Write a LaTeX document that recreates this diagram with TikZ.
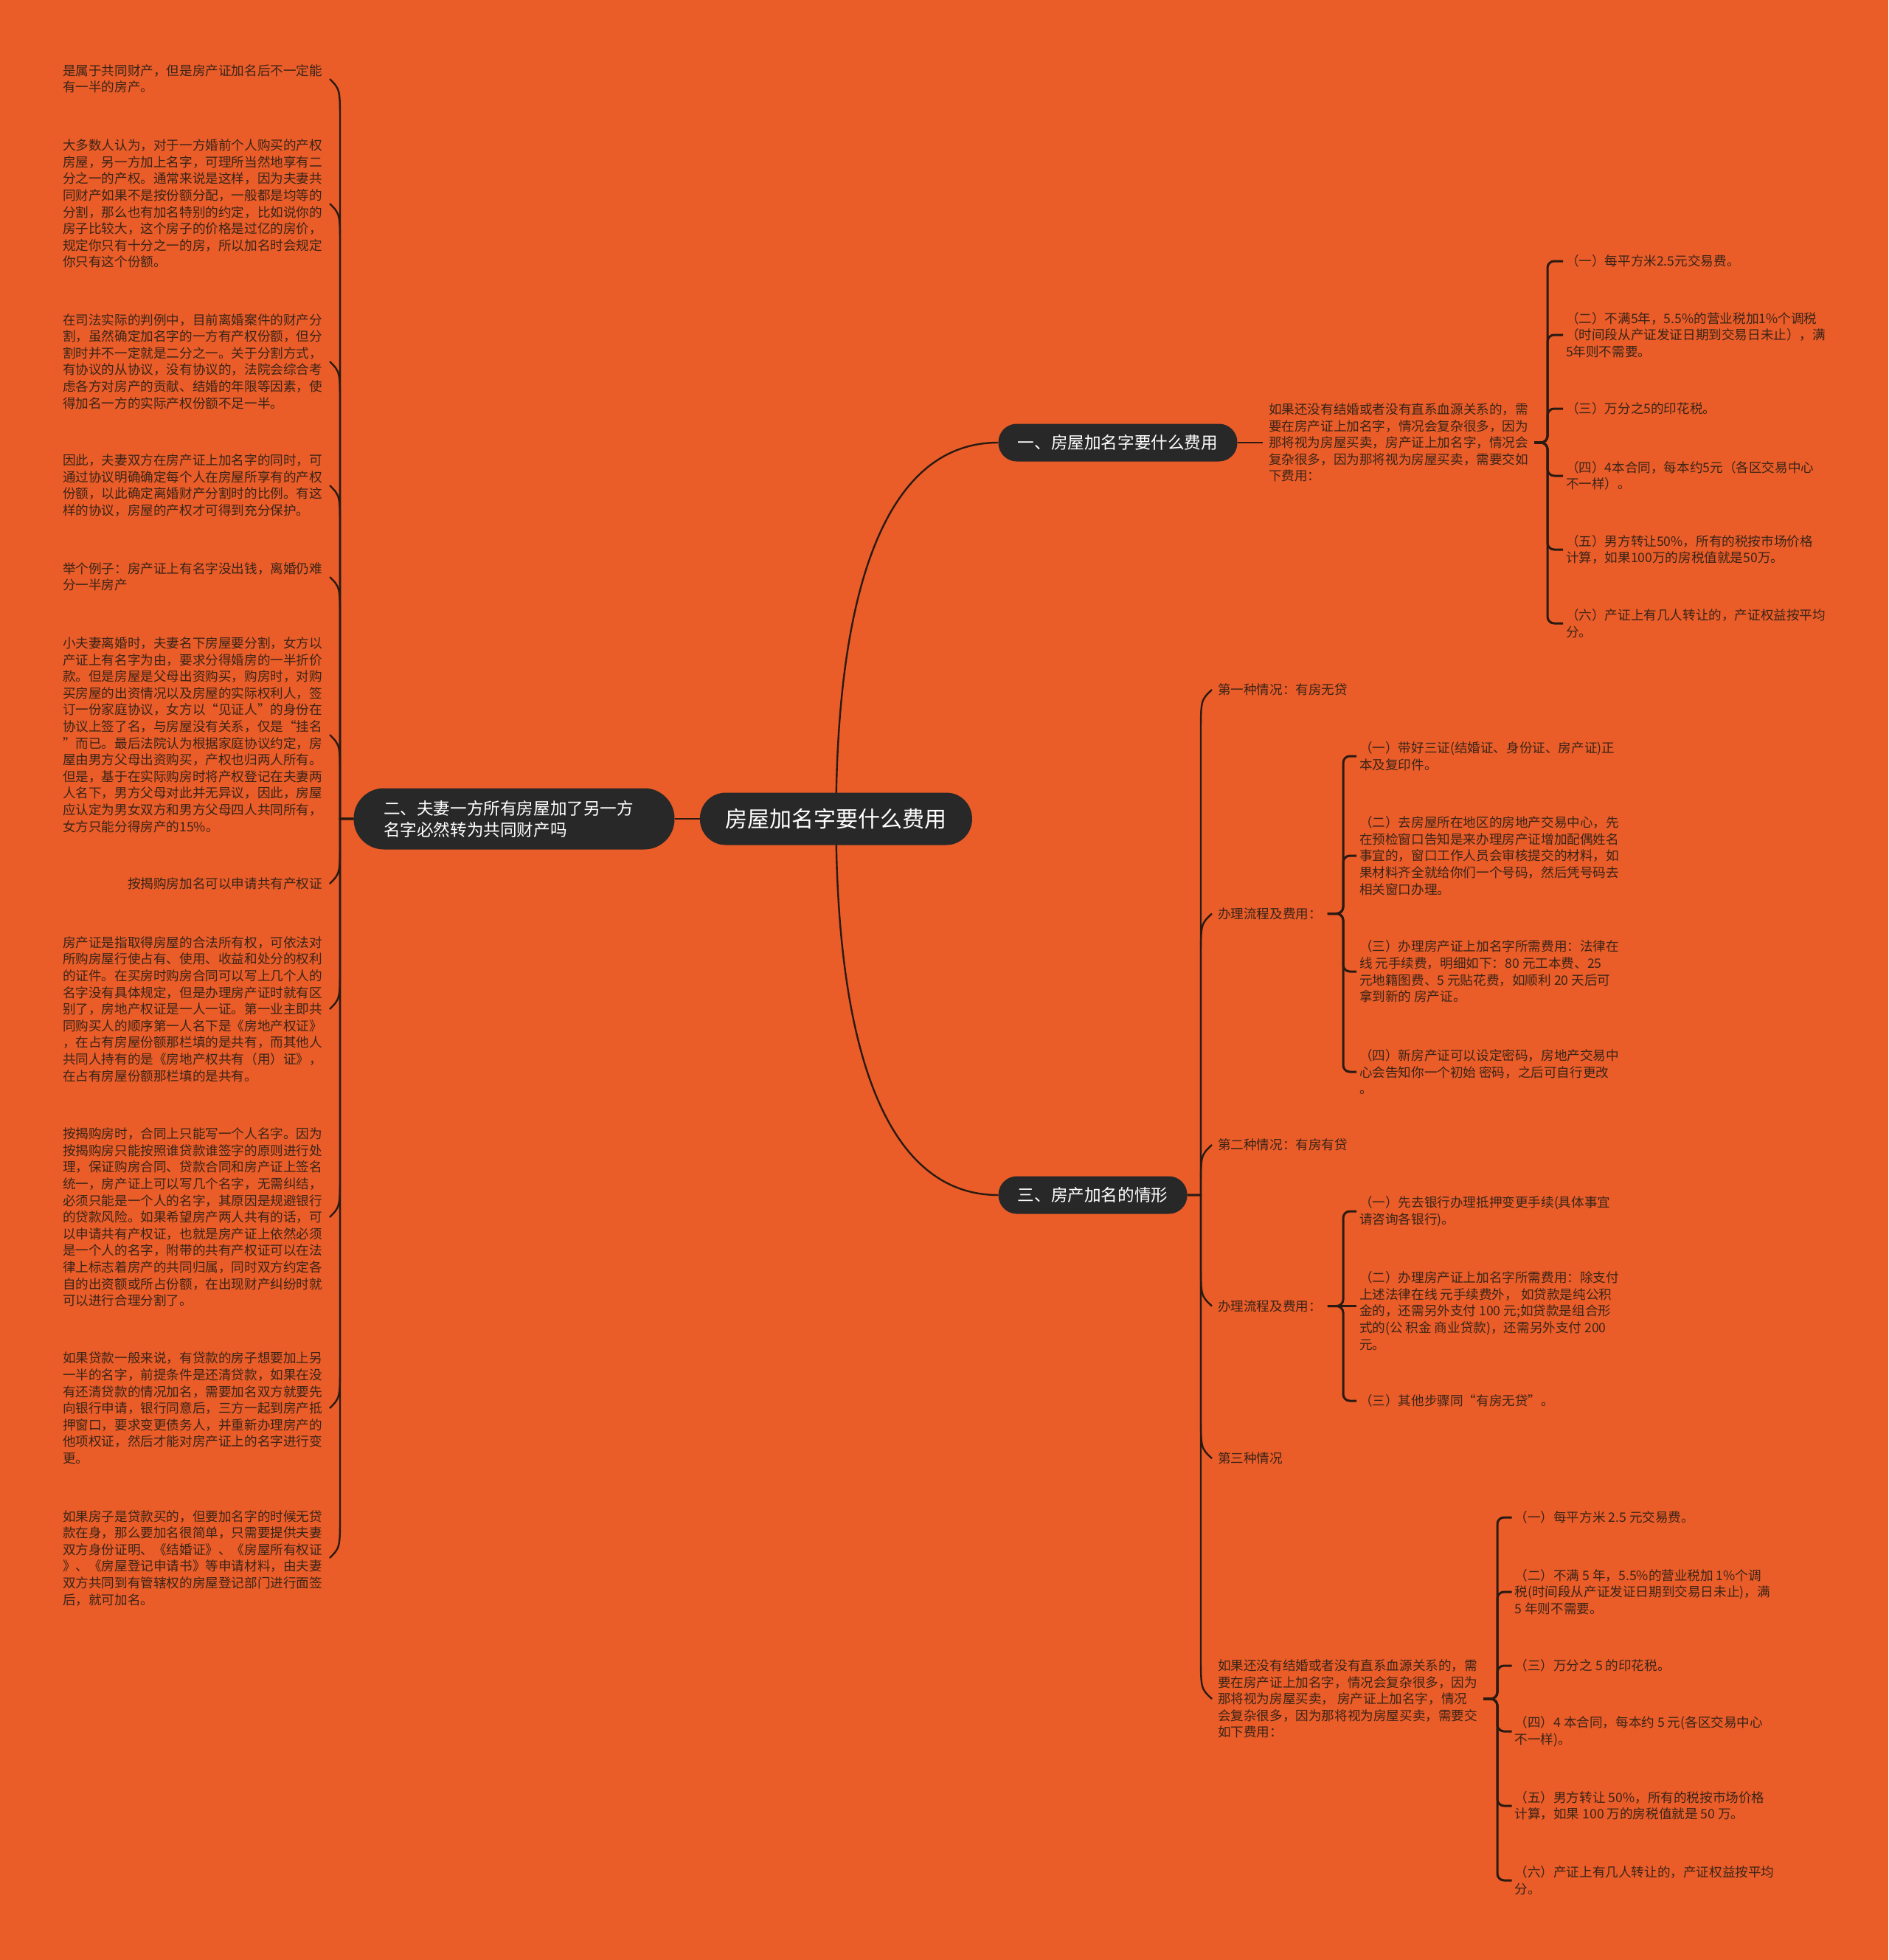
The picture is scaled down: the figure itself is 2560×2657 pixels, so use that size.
\documentclass[tikz,border=0pt]{standalone}
\usepackage{fontspec}
\setmainfont{Noto Sans CJK SC}
\usetikzlibrary{backgrounds,calc}
\definecolor{bg}{HTML}{EA5D29}
\definecolor{ink}{HTML}{2A1A12}
\definecolor{txt}{HTML}{3A2418}
\definecolor{nodefill}{HTML}{282828}
\begin{document}
\begin{tikzpicture}[x=1pt,y=-1pt,
  leaf/.style={anchor=west,text width=352pt,align=left,inner sep=0pt,outer xsep=10pt,outer ysep=0pt,text=txt,font=\fontsize{17.6}{22.6}\selectfont},
  leafr/.style={leaf,align=right},
  item/.style={anchor=west,align=left,inner sep=0pt,outer xsep=4pt,outer ysep=0pt,text=txt,font=\fontsize{17.6}{22.6}\selectfont},
  child/.style={item,outer xsep=8pt},
  mainbox/.style={fill=nodefill,text=white,font=\fontsize{22.6}{29}\selectfont,minimum height=51pt,rounded corners=25pt,inner xsep=0pt,inner ysep=0pt},
  conn/.style={draw=ink,line width=2.4pt},
  brk/.style={draw=ink,line width=3pt,rounded corners=9pt}]
\useasboundingbox (0,0) rectangle (2560,2657);

% main nodes
\node[mainbox,font=\fontsize{30}{36}\selectfont,minimum width=369pt,minimum height=71pt,rounded corners=35pt] (root) at (1133.4,1110) {房屋加名字要什么费用};
\node[mainbox,minimum width=435pt,minimum height=83pt,rounded corners=41pt,text width=354pt,inner xsep=40.5pt,align=left] (n2) at (697,1110) {二、夫妻一方所有房屋加了另一方\\名字必然转为共同财产吗};
\node[mainbox,minimum width=324pt] (n1) at (1515.5,600) {一、房屋加名字要什么费用};
\node[mainbox,minimum width=256pt] (n3) at (1481.6,1620) {三、房产加名的情形};

% left leaves
\node[leaf] (L1) at (75,107) {是属于共同财产，但是房产证加名后不一定能\\有一半的房产。};
\node[leaf] (L2) at (75,276) {大多数人认为，对于一方婚前个人购买的产权\\房屋，另一方加上名字，可理所当然地享有二\\分之一的产权。通常来说是这样，因为夫妻共\\同财产如果不是按份额分配，一般都是均等的\\分割，那么也有加名特别的约定，比如说你的\\房子比较大，这个房子的价格是过亿的房价，\\规定你只有十分之一的房，所以加名时会规定\\你只有这个份额。};
\node[leaf] (L3) at (75,490) {在司法实际的判例中，目前离婚案件的财产分\\割，虽然确定加名字的一方有产权份额，但分\\割时并不一定就是二分之一。关于分割方式，\\有协议的从协议，没有协议的，法院会综合考\\虑各方对房产的贡献、结婚的年限等因素，使\\得加名一方的实际产权份额不足一半。};
\node[leaf] (L4) at (75,658) {因此，夫妻双方在房产证上加名字的同时，可\\通过协议明确确定每个人在房屋所享有的产权\\份额，以此确定离婚财产分割时的比例。有这\\样的协议，房屋的产权才可得到充分保护。};
\node[leaf] (L5) at (75,782) {举个例子：房产证上有名字没出钱，离婚仍难\\分一半房产};
\node[leaf] (L6) at (75,996) {小夫妻离婚时，夫妻名下房屋要分割，女方以\\产证上有名字为由，要求分得婚房的一半折价\\款。但是房屋是父母出资购买，购房时，对购\\买房屋的出资情况以及房屋的实际权利人，签\\订一份家庭协议，女方以“见证人”的身份在\\协议上签了名，与房屋没有关系，仅是“挂名\\”而已。最后法院认为根据家庭协议约定，房\\屋由男方父母出资购买，产权也归两人所有。\\但是，基于在实际购房时将产权登记在夫妻两\\人名下，男方父母对此并无异议，因此，房屋\\应认定为男女双方和男方父母四人共同所有，\\女方只能分得房产的15\%。};
\node[leafr] (L7) at (75,1198) {按揭购房加名可以申请共有产权证};
\node[leaf] (L8) at (75,1368) {房产证是指取得房屋的合法所有权，可依法对\\所购房屋行使占有、使用、收益和处分的权利\\的证件。在买房时购房合同可以写上几个人的\\名字没有具体规定，但是办理房产证时就有区\\别了，房地产权证是一人一证。第一业主即共\\同购买人的顺序第一人名下是《房地产权证》\\，在占有房屋份额那栏填的是共有，而其他人\\共同人持有的是《房地产权共有（用）证》，\\在占有房屋份额那栏填的是共有。};
\node[leaf] (L9) at (75,1650) {按揭购房时，合同上只能写一个人名字。因为\\按揭购房只能按照谁贷款谁签字的原则进行处\\理，保证购房合同、贷款合同和房产证上签名\\统一，房产证上可以写几个名字，无需纠结，\\必须只能是一个人的名字，其原因是规避银行\\的贷款风险。如果希望房产两人共有的话，可\\以申请共有产权证，也就是房产证上依然必须\\是一个人的名字，附带的共有产权证可以在法\\律上标志着房产的共同归属，同时双方约定各\\自的出资额或所占份额，在出现财产纠纷时就\\可以进行合理分割了。};
\node[leaf] (L10) at (75,1909) {如果贷款一般来说，有贷款的房子想要加上另\\一半的名字，前提条件是还清贷款，如果在没\\有还清贷款的情况加名，需要加名双方就要先\\向银行申请，银行同意后，三方一起到房产抵\\押窗口，要求变更债务人，并重新办理房产的\\他项权证，然后才能对房产证上的名字进行变\\更。};
\node[leaf] (L11) at (75,2112) {如果房子是贷款买的，但要加名字的时候无贷\\款在身，那么要加名很简单，只需要提供夫妻\\双方身份证明、《结婚证》、《房屋所有权证\\》、《房屋登记申请书》等申请材料，由夫妻\\双方共同到有管辖权的房屋登记部门进行面签\\后，就可加名。};

% group 1
\node[item,outer xsep=8pt] (G1P) at (1712,600) {如果还没有结婚或者没有直系血源关系的，需\\要在房产证上加名字，情况会复杂很多，因为\\那将视为房屋买卖，房产证上加名字，情况会\\复杂很多，因为那将视为房屋买卖，需要交如\\下费用：};
\node[item] (G1a) at (2119,354) {（一）每平方米2.5元交易费。};
\node[item] (G1b) at (2119,454) {（二）不满5年，5.5\%的营业税加1\%个调税\\（时间段从产证发证日期到交易日未止），满\\5年则不需要。};
\node[item] (G1c) at (2119,554) {（三）万分之5的印花税。};
\node[item] (G1d) at (2119,645) {（四）4本合同，每本约5元（各区交易中心\\不一样）。};
\node[item] (G1e) at (2119,745) {（五）男方转让50\%，所有的税按市场价格\\计算，如果100万的房税值就是50万。};
\node[item] (G1f) at (2119,845) {（六）产证上有几人转让的，产证权益按平均\\分。};

% group 3 children
\node[child] (C1) at (1643,935) {第一种情况：有房无贷};
\node[child] (C2) at (1643,1238.5) {办理流程及费用：};
\node[child] (C3) at (1643,1552) {第二种情况：有房有贷};
\node[child] (C4) at (1643,1770.5) {办理流程及费用：};
\node[child] (C5) at (1643,1977) {第三种情况};
\node[child] (C6) at (1643,2303) {如果还没有结婚或者没有直系血源关系的，需\\要在房产证上加名字，情况会复杂很多，因为\\那将视为房屋买卖， 房产证上加名字，情况\\会复杂很多，因为那将视为房屋买卖，需要交\\如下费用：};

% G2a items
\node[item] (A1) at (1839,1025) {（一）带好三证(结婚证、身份证、房产证)正\\本及复印件。};
\node[item] (A2) at (1839,1160) {（二）去房屋所在地区的房地产交易中心，先\\在预检窗口告知是来办理房产证增加配偶姓名\\事宜的，窗口工作人员会审核提交的材料，如\\果材料齐全就给你们一个号码，然后凭号码去\\相关窗口办理。};
\node[item] (A3) at (1839,1317) {（三）办理房产证上加名字所需费用：法律在\\线 元手续费，明细如下：80 元工本费、25\\元地籍图费、5 元贴花费，如顺利 20 天后可\\拿到新的 房产证。};
\node[item] (A4) at (1839,1453) {（四）新房产证可以设定密码，房地产交易中\\心会告知你一个初始 密码，之后可自行更改\\。};

% G2b items
\node[item] (B1) at (1839,1642) {（一）先去银行办理抵押变更手续(具体事宜\\请咨询各银行)。};
\node[item] (B2) at (1839,1777) {（二）办理房产证上加名字所需费用：除支付\\上述法律在线 元手续费外， 如贷款是纯公积\\金的，还需另外支付 100 元;如贷款是组合形\\式的(公 积金 商业贷款)，还需另外支付 200\\元。};
\node[item] (B3) at (1839,1899) {（三）其他步骤同“有房无贷”。};

% G3 items
\node[item] (D1) at (2049.5,2057) {（一）每平方米 2.5 元交易费。};
\node[item] (D2) at (2049.5,2158) {（二）不满 5 年，5.5\%的营业税加 1\%个调\\税(时间段从产证发证日期到交易日未止)，满\\5 年则不需要。};
\node[item] (D3) at (2049.5,2258) {（三）万分之 5 的印花税。};
\node[item] (D4) at (2049.5,2347) {（四）4 本合同，每本约 5 元(各区交易中心\\不一样)。};
\node[item] (D5) at (2049.5,2448) {（五）男方转让 50\%，所有的税按市场价格\\计算，如果 100 万的房税值就是 50 万。};
\node[item] (D6) at (2049.5,2549) {（六）产证上有几人转让的，产证权益按平均\\分。};

\coordinate (tx) at (461,1110);
\coordinate (t3) at (1628,1620);
\coordinate (b1) at (2098,600);
\coordinate (b2) at (1821,1238.5);
\coordinate (b3) at (2030,2303);

\begin{scope}[on background layer]
\fill[bg] (0,0) rectangle (2560,2657);
% root connectors
\draw[conn] (root.center) .. controls (1134,800) and (1200,600) .. (n1.west);
\draw[conn] (root.center) .. controls (1134,1420) and (1200,1620) .. (n3.west);
\draw[conn] (root.west) -- (n2.east);
% left tree: trunk + hooks
\foreach \l/\a/\b in {L1/60/14,L2/60/14,L3/60/14,L4/60/14,L5/60/14,L6/60/14,L7/-60/-14,L8/-60/-14,L9/-60/-14,L10/-60/-14,L11/-60/-14}
  \draw[conn] (n2.west) -- (tx) -- ($(\l.east -| tx)+(0,\a)$) .. controls ($(\l.east -| tx)+(0,\b)$) .. (\l.east);
% group 3 tree: trunk + hooks
\foreach \c/\a/\b in {C1/60/14,C2/60/14,C3/60/14,C4/-60/-14,C5/-60/-14,C6/-60/-14}
  \draw[conn] (n3.east) -- (t3) -- ($(\c.west -| t3)+(0,\a)$) .. controls ($(\c.west -| t3)+(0,\b)$) .. (\c.west);
% group 1
\draw[conn] (n1.east) -- (G1P.west);
\foreach \i in {G1a,G1b,G1c,G1d,G1e,G1f}
  \draw[brk] (G1P.east) -- (G1P.east -| b1) |- (\i.west);
% G2a
\foreach \i in {A1,A2,A3,A4}
  \draw[brk] (C2.east) -- (C2.east -| b2) |- (\i.west);
% G2b
\foreach \i in {B1,B3}
  \draw[brk] (C4.east) -- (C4.east -| b2) |- (\i.west);
\draw[brk] (C4.east) -- (B2.west |- C4.east);
% G3
\foreach \i in {D1,D2,D3,D4,D5,D6}
  \draw[brk] (C6.east) -- (C6.east -| b3) |- (\i.west);
\end{scope}
\end{tikzpicture}
\end{document}
